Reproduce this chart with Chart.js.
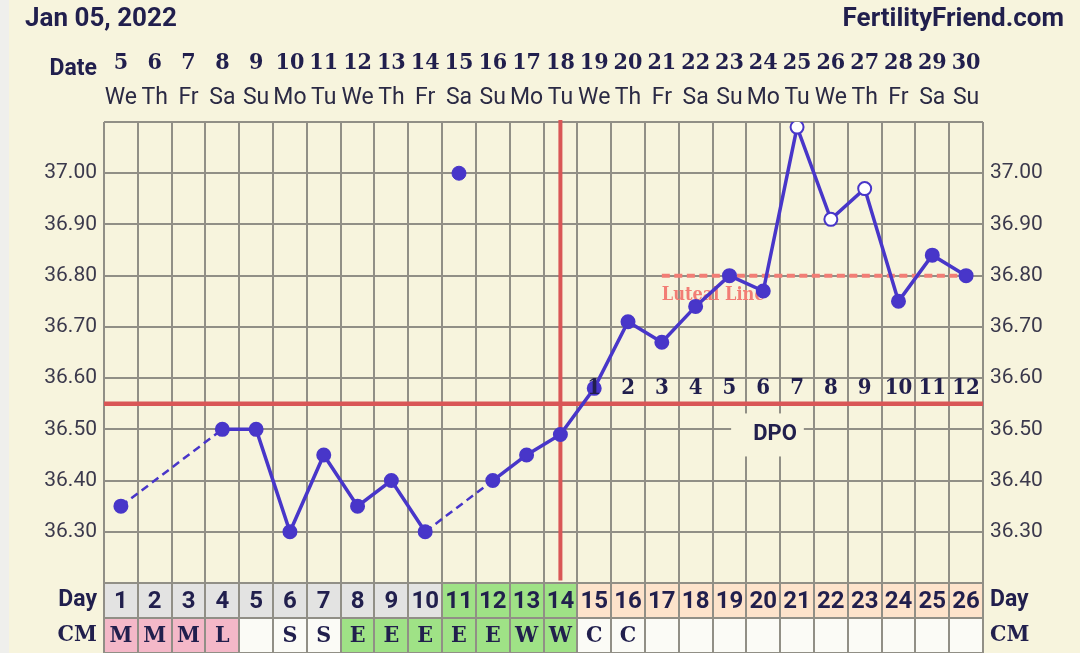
<!DOCTYPE html>
<html>
<head>
<meta charset="utf-8">
<title>BBT chart</title>
<script src="https://cdn.jsdelivr.net/npm/chart.js@4.4.1/dist/chart.umd.min.js"></script>
<style>
  html, body { margin: 0; padding: 0; background: #f7f4dd; overflow: hidden; }
  #wrap { width: 1080px; height: 653px; }
</style>
</head>
<body>
<div id="wrap"><canvas id="bbtChart" width="1080" height="653"></canvas></div>
<script>
// chart data
const chartDate = 'Jan 05, 2022';
const siteName = 'FertilityFriend.com';

const cycleDays = [1, 2, 3, 4, 5, 6, 7, 8, 9, 10, 11, 12, 13, 14, 15, 16, 17, 18, 19, 20, 21, 22, 23, 24, 25, 26];
const dateNums = ['5', '6', '7', '8', '9', '10', '11', '12', '13', '14', '15', '16', '17',
                  '18', '19', '20', '21', '22', '23', '24', '25', '26', '27', '28', '29', '30'];
const weekdays = ['We', 'Th', 'Fr', 'Sa', 'Su', 'Mo', 'Tu', 'We', 'Th', 'Fr', 'Sa', 'Su', 'Mo',
                  'Tu', 'We', 'Th', 'Fr', 'Sa', 'Su', 'Mo', 'Tu', 'We', 'Th', 'Fr', 'Sa', 'Su'];

// temperatures (null = not recorded / discarded)
const temps = [36.35, null, null, 36.50, 36.50, 36.30, 36.45, 36.35, 36.40, 36.30, null, 36.40, 36.45,
               36.49, 36.58, 36.71, 36.67, 36.74, 36.80, 36.77, 37.09, 36.91, 36.97, 36.75, 36.84, 36.80];
const discardedDay = 11;
const discardedTemp = 37.00;
const openCircleDays = [21, 22, 23];

const cmValues = ['M', 'M', 'M', 'L', '', 'S', 'S', 'E', 'E', 'E', 'E', 'E', 'W',
                  'W', 'C', 'C', '', '', '', '', '', '', '', '', '', ''];

const coverline = 36.55;
const ovulationDay = 14;
const fertileStartDay = 11;
const lutealLevel = 36.80;
const lutealStartDay = 17;
const dpoStartDay = 15;

const yMin = 36.20;
const yMax = 37.10;
const yLabelValues = [36.30, 36.40, 36.50, 36.60, 36.70, 36.80, 36.90, 37.00];

// colours / fonts
const INK = '#211f4d';
const BLUE = '#4836c9';
const RED = '#d95656';
const SALMON = '#f27d75';
const GRID = '#918f86';
const CREAM = '#f7f4dd';
const SANS = 'Roboto';
const SERIF = 'DejaVu Serif';
const SLAB = 'bold condensed';   // weight + stretch for the slab digits

const tempPoints = [];
const tempFill = [];
cycleDays.forEach((d, i) => {
    if (temps[i] === null) return;
    tempPoints.push({ x: d - 0.5, y: temps[i] });
    tempFill.push(openCircleDays.includes(d) ? '#ffffff' : BLUE);
});

const lastDay = cycleDays[cycleDays.length - 1];
const isGap = ctx => ctx.p1.parsed.x - ctx.p0.parsed.x > 1.01;

const yTickLabel = v => {
    const hit = yLabelValues.find(l => Math.abs(l - v) < 0.001);
    return hit === undefined ? '' : hit.toFixed(2);
};

// background, header, DPO labels and the Day / CM table
const sheetPlugin = {
    id: 'sheet',
    beforeDraw(chart) {
        const c = chart.ctx;
        c.save();
        c.fillStyle = CREAM;
        c.fillRect(0, 0, chart.width, chart.height);
        c.fillStyle = '#efefec';
        c.fillRect(0, 0, 9, chart.height);
        c.restore();
    },
    beforeDatasetsDraw(chart) {
        const c = chart.ctx;
        const x = chart.scales.x;
        const y = chart.scales.y;
        c.save();
        // Luteal Line caption
        c.font = SLAB + ' 18px ' + SERIF;
        c.fillStyle = SALMON;
        c.textAlign = 'left';
        c.textBaseline = 'middle';
        c.fillText('Luteal Line', x.getPixelForValue(lutealStartDay - 0.5), y.getPixelForValue(lutealLevel) + 20);
        // DPO caption with its backdrop
        const x0 = x.getPixelForValue(18.55);
        const x1 = x.getPixelForValue(20.7);
        const dy = y.getPixelForValue(36.49);
        c.fillStyle = CREAM;
        c.fillRect(x0, dy - 21, x1 - x0, 43);
        c.font = 'bold 22px ' + SANS;
        c.fillStyle = INK;
        c.textAlign = 'center';
        c.fillText('DPO', x.getPixelForValue(19.85), dy);
        c.restore();
    },
    afterDatasetsDraw(chart) {
        const c = chart.ctx;
        const x = chart.scales.x;
        const y = chart.scales.y;
        c.save();
        c.font = SLAB + ' 22px ' + SERIF;
        c.fillStyle = INK;
        c.textAlign = 'center';
        c.textBaseline = 'middle';
        for (let d = dpoStartDay; d <= lastDay; d++) {
            c.fillText(String(d - dpoStartDay + 1), x.getPixelForValue(d - 0.5), y.getPixelForValue(36.58));
        }
        c.restore();
    },
    afterDraw(chart) {
        const c = chart.ctx;
        const x = chart.scales.x;
        const area = chart.chartArea;
        c.save();
        c.fillStyle = INK;
        c.textBaseline = 'middle';
        c.font = 'bold 26px ' + SANS;
        c.textAlign = 'left';
        c.fillText(chartDate, 25, 19);
        c.textAlign = 'right';
        c.fillText(siteName, 1064, 19);
        c.font = 'bold 23px ' + SANS;
        c.fillText('Date', 97, 69);

        // table rows
        const rowH = 35;
        const top = area.bottom;
        cycleDays.forEach((d, i) => {
            const x0 = x.getPixelForValue(d - 1);
            const x1 = x.getPixelForValue(d);
            let dayCol = '#e3e3e2';
            if (d >= fertileStartDay && d <= ovulationDay) dayCol = '#9fe286';
            else if (d > ovulationDay) dayCol = '#fde3cb';
            const cm = cmValues[i];
            let cmCol = '#fbfbf6';
            if (cm === 'M' || cm === 'L') cmCol = '#f4b8c8';
            else if (cm === 'E' || cm === 'W') cmCol = '#9fe286';
            c.fillStyle = dayCol;
            c.fillRect(x0, top, x1 - x0, rowH);
            c.fillStyle = cmCol;
            c.fillRect(x0, top + rowH, x1 - x0, rowH);
            c.fillStyle = INK;
            c.textAlign = 'center';
            c.font = 'bold 24px ' + SANS;
            c.fillText(String(d), (x0 + x1) / 2, top + rowH / 2 + 1);
            if (cm) {
                c.font = SLAB + ' 23px ' + SERIF;
                c.fillText(cm, (x0 + x1) / 2, top + rowH * 1.5 + 1);
            }
        });
        c.strokeStyle = GRID;
        c.lineWidth = 2;
        c.beginPath();
        for (let d = 0; d <= lastDay; d++) {
            const px = Math.round(x.getPixelForValue(d));
            c.moveTo(px, top);
            c.lineTo(px, top + rowH * 2);
        }
        for (let r = 0; r <= 2; r++) {
            c.moveTo(area.left, top + rowH * r);
            c.lineTo(area.right, top + rowH * r);
        }
        c.stroke();

        // row captions
        c.fillStyle = INK;
        c.font = 'bold 23px ' + SANS;
        c.textAlign = 'right';
        c.fillText('Day', 97, top + rowH / 2);
        c.textAlign = 'left';
        c.fillText('Day', 990, top + rowH / 2);
        c.font = SLAB + ' 23px ' + SERIF;
        c.textAlign = 'right';
        c.fillText('CM', 97, top + rowH * 1.5);
        c.textAlign = 'left';
        c.fillText('CM', 990, top + rowH * 1.5);
        c.restore();
    }
};

const ctx = document.getElementById('bbtChart').getContext('2d');
const bbtChart = new Chart(ctx, {
    type: 'line',
    data: {
        datasets: [
            {
                label: 'Temperature',
                data: tempPoints,
                borderColor: BLUE,
                borderWidth: 3.5,
                pointRadius: 6.5,
                pointBorderWidth: 2,
                pointBackgroundColor: tempFill,
                pointBorderColor: BLUE,
                tension: 0,
                order: 0,
                segment: {
                    borderDash: ctx => isGap(ctx) ? [8, 5] : undefined,
                    borderWidth: ctx => isGap(ctx) ? 2.5 : undefined
                }
            },
            {
                label: 'Discarded',
                data: [{ x: discardedDay - 0.5, y: discardedTemp }],
                showLine: false,
                pointRadius: 7,
                pointBorderWidth: 1,
                pointBackgroundColor: BLUE,
                pointBorderColor: BLUE,
                order: 0
            },
            {
                label: 'Coverline',
                data: [{ x: 0, y: coverline }, { x: lastDay, y: coverline }],
                borderColor: RED,
                borderWidth: 4.5,
                pointRadius: 0,
                order: 2
            },
            {
                label: 'Ovulation',
                data: [{ x: ovulationDay - 0.5, y: yMin + 0.005 }, { x: ovulationDay - 0.5, y: yMax + 0.004 }],
                borderColor: RED,
                borderWidth: 4,
                pointRadius: 0,
                clip: false,
                order: 2
            },
            {
                label: 'Luteal Line',
                data: [{ x: lutealStartDay - 0.5, y: lutealLevel }, { x: lastDay - 0.3, y: lutealLevel }],
                borderColor: SALMON,
                borderWidth: 4,
                borderDash: [8, 4.5],
                pointRadius: 0,
                order: 1
            }
        ]
    },
    options: {
        responsive: false,
        animation: false,
        layout: { padding: { top: 40, left: 0, right: 0, bottom: 0 } },
        plugins: {
            legend: { display: false },
            tooltip: { enabled: false }
        },
        scales: {
            x: {
                type: 'linear',
                position: 'bottom',
                min: 0,
                max: lastDay,
                ticks: { stepSize: 1, display: false },
                grid: { color: GRID, lineWidth: 2, drawTicks: false },
                border: { display: false },
                afterFit: s => { s.height = 70; }
            },
            xWeek: {
                type: 'category',
                position: 'top',
                labels: weekdays,
                offset: true,
                weight: 0,
                grid: { display: false, drawTicks: false },
                border: { display: false },
                ticks: {
                    autoSkip: false, maxRotation: 0, padding: 10,
                    color: '#2b2a44',
                    font: { family: SANS, size: 23 }
                },
                afterFit: s => { s.height = 42; }
            },
            xDate: {
                type: 'category',
                position: 'top',
                labels: dateNums,
                offset: true,
                weight: 1,
                grid: { display: false, drawTicks: false },
                border: { display: false },
                ticks: {
                    autoSkip: false, maxRotation: 0, padding: 3,
                    color: INK,
                    font: { family: SERIF, size: 23, weight: SLAB }
                },
                afterFit: s => { s.height = 40; }
            },
            y: {
                type: 'linear',
                position: 'left',
                min: yMin,
                max: yMax,
                ticks: {
                    stepSize: 0.05, padding: 7,
                    color: '#3b394c',
                    font: { family: SANS, size: 21 },
                    callback: yTickLabel
                },
                grid: { color: GRID, lineWidth: 2, drawTicks: false },
                border: { display: false },
                afterFit: s => { s.width = 104; }
            },
            y2: {
                type: 'linear',
                position: 'right',
                min: yMin,
                max: yMax,
                ticks: {
                    stepSize: 0.05, padding: 7,
                    color: '#3b394c',
                    font: { family: SANS, size: 21 },
                    callback: yTickLabel
                },
                grid: { display: false, drawTicks: false },
                border: { display: false },
                afterFit: s => { s.width = 97; }
            }
        }
    },
    plugins: [sheetPlugin]
});
</script>
</body>
</html>
